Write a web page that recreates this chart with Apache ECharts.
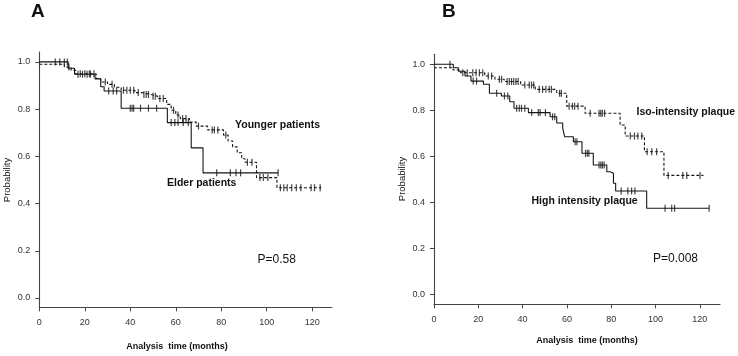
<!DOCTYPE html>
<html><head><meta charset="utf-8">
<script src="https://cdn.jsdelivr.net/npm/echarts@6/dist/echarts.min.js"></script>
<style>html,body{margin:0;padding:0;background:#fff}#c{width:738px;height:356px}</style>
</head><body><div id="c"></div>
<script>
// ---- Panel A data ----
const youngerTimes = [0, 11, 14, 16, 25, 27, 30, 33, 36, 42, 45, 49, 52, 56, 58, 60, 62, 66, 69, 74, 81, 83, 85, 87, 89, 90.5, 95.5, 104.5, 124];
const youngerSurv  = [0.99, 0.978, 0.965, 0.95, 0.93, 0.915, 0.905, 0.893, 0.88, 0.87, 0.862, 0.855, 0.845, 0.82, 0.795, 0.775, 0.76, 0.745, 0.728, 0.712, 0.69, 0.665, 0.64, 0.615, 0.59, 0.575, 0.51, 0.467, 0.467];
const youngerCensor = [13, 18, 20, 22, 24, 29, 32, 37, 38.5, 40, 41.5, 43.5, 46, 47, 48, 50, 51, 53, 54.5, 59, 61, 63, 64.5, 70, 76, 77, 78.5, 82, 91.5, 93.5, 97, 98.5, 100.5, 106, 107.5, 109, 111, 113, 115, 119.5, 121, 123.5];
const elderTimes = [0, 12.7, 15.5, 24.5, 27, 28.5, 36, 56.3, 66.8, 72, 105];
const elderSurv  = [1.0, 0.973, 0.948, 0.928, 0.895, 0.877, 0.804, 0.743, 0.636, 0.53, 0.53];
const elderCensor = [7, 9, 11, 12.3, 17, 19, 21, 22.5, 30.5, 32.5, 34, 40, 40.8, 41.5, 44.5, 48, 51.6, 58, 59.6, 61, 63.3, 65.5, 78, 84, 86.5, 88.5, 105];
// ---- Panel B data ----
const isoTimes = [0, 8.6, 12, 22.9, 27.5, 31.7, 39.1, 45.7, 55.4, 59.9, 68.2, 84, 86.3, 95, 103.8, 121.6];
const isoSurv  = [0.985, 0.975, 0.963, 0.949, 0.935, 0.925, 0.91, 0.891, 0.874, 0.818, 0.787, 0.736, 0.688, 0.62, 0.517, 0.517];
const isoCensor = [13, 15, 17.5, 19, 20.5, 22, 24.5, 26, 29.5, 30.5, 33, 34, 35, 36, 37, 38, 41, 43, 44, 45, 47.5, 49, 50.5, 52, 53, 56.7, 57.5, 61, 62.5, 63.5, 65, 70.5, 74.5, 75.3, 76, 77, 88.6, 90.5, 92, 93.8, 96.2, 98.3, 100.5, 105.7, 112.3, 114.1, 120.1];
const highTimes = [0, 8.7, 11, 14, 16.7, 22.3, 25, 30.4, 34.2, 36.1, 42.6, 52.4, 55.4, 58.1, 59, 62.9, 66.8, 71.9, 78, 79.5, 81, 82, 96, 124.2];
const highSurv  = [1.0, 0.985, 0.97, 0.949, 0.927, 0.913, 0.874, 0.862, 0.837, 0.809, 0.79, 0.772, 0.745, 0.722, 0.685, 0.663, 0.613, 0.562, 0.533, 0.526, 0.483, 0.449, 0.374, 0.374];
const highCensor = [7.2, 17.7, 19.2, 28.3, 31.8, 33.3, 37.3, 38.5, 39.5, 41, 44.1, 47.1, 47.9, 50.3, 53.5, 54.5, 63.7, 64.5, 68.4, 69.2, 69.9, 74.5, 75.3, 76, 76.8, 84.5, 87.5, 89.2, 90.7, 104.3, 107.3, 108.6, 124.2];
// ---- axis ticks ----
const xTicks = [0, 20, 40, 60, 80, 100, 120];
const yTicks = [0, 0.2, 0.4, 0.6, 0.8, 1.0];

const FONT = 'Arial, "Liberation Sans", sans-serif';
const INK = '#151515';
function pairs(t, s) { return t.map((v, i) => [v, s[i]]); }
function survAt(t, times, surv) {
  let v = surv[0];
  for (let i = 0; i < times.length; i++) { if (times[i] <= t) v = surv[i]; }
  return v;
}
function censorPts(c, times, surv) { return c.map(t => [t, survAt(t, times, surv)]); }

function xAx(idx, max) {
  return { gridIndex: idx, type: 'value', min: 0, max: max,
    axisLine: { show: true, onZero: false, lineStyle: { color: '#444', width: 1.1 } },
    axisTick: { show: true, length: 4, customValues: xTicks, lineStyle: { color: '#444' } },
    axisLabel: { customValues: xTicks, margin: 11, fontSize: 9, color: '#333', fontFamily: FONT },
    splitLine: { show: false } };
}
function yAx(idx, min, max) {
  return { gridIndex: idx, type: 'value', min: min, max: max,
    axisLine: { show: true, onZero: false, lineStyle: { color: '#444', width: 1.1 } },
    axisTick: { show: true, length: 4, customValues: yTicks, lineStyle: { color: '#444' } },
    axisLabel: { customValues: yTicks, margin: 9, fontSize: 9, color: '#333', fontFamily: FONT,
      formatter: v => v.toFixed(1) },
    splitLine: { show: false } };
}
function stepLine(idx, data, dashed) {
  return { type: 'line', xAxisIndex: idx, yAxisIndex: idx, step: 'end', data: data,
    showSymbol: false, symbol: 'none', silent: true,
    lineStyle: { color: INK, width: 1.1, type: dashed ? [3, 2] : 'solid' } };
}
function censors(idx, data) {
  return { type: 'scatter', xAxisIndex: idx, yAxisIndex: idx, data: data, symbol: 'rect',
    symbolSize: [1.2, 7], itemStyle: { color: INK }, silent: true };
}
function txt(x, y, s, size, bold, align, rot) {
  return { type: 'text', x: x, y: y, rotation: rot || 0,
    style: { text: s, fill: '#111', font: (bold ? 'bold ' : '') + size + 'px ' + FONT,
      textAlign: align || 'left', textVerticalAlign: 'middle' } };
}

const chart = echarts.init(document.getElementById('c'), null, { renderer: 'canvas' });
chart.setOption({
  animation: false,
  backgroundColor: '#fff',
  grid: [
    { left: 39.3, top: 52, width: 292.7, height: 255.3 },
    { left: 434, top: 54.3, width: 286, height: 250 }
  ],
  xAxis: [xAx(0, 128.7), xAx(1, 129.1)],
  yAxis: [yAx(0, -0.0394, 1.042), yAx(1, -0.0435, 1.0435)],
  series: [
    stepLine(0, pairs(elderTimes, elderSurv), false),
    stepLine(0, pairs(youngerTimes, youngerSurv), true),
    censors(0, censorPts(elderCensor, elderTimes, elderSurv)),
    censors(0, censorPts(youngerCensor, youngerTimes, youngerSurv)),
    stepLine(1, pairs(highTimes, highSurv), false),
    stepLine(1, pairs(isoTimes, isoSurv), true),
    censors(1, censorPts(highCensor, highTimes, highSurv)),
    censors(1, censorPts(isoCensor, isoTimes, isoSurv))
  ],
  graphic: [
    txt(31, 12, 'A', 19, true),
    txt(442, 12, 'B', 19, true),
    txt(7, 180, 'Probability', 9.5, false, 'center', Math.PI / 2),
    txt(402, 179, 'Probability', 9.5, false, 'center', Math.PI / 2),
    txt(177, 346.5, 'Analysis  time (months)', 9, true, 'center'),
    txt(587, 341, 'Analysis  time (months)', 9, true, 'center'),
    txt(235, 125, 'Younger patients', 10.5, true),
    txt(167, 183, 'Elder patients', 10.5, true),
    txt(257.5, 259.5, 'P=0.58', 12, false),
    txt(636.5, 112, 'Iso-intensity plaque', 10.5, true),
    txt(531.5, 201, 'High intensity plaque', 10.5, true),
    txt(653, 259, 'P=0.008', 12, false)
  ]
});
</script></body></html>
